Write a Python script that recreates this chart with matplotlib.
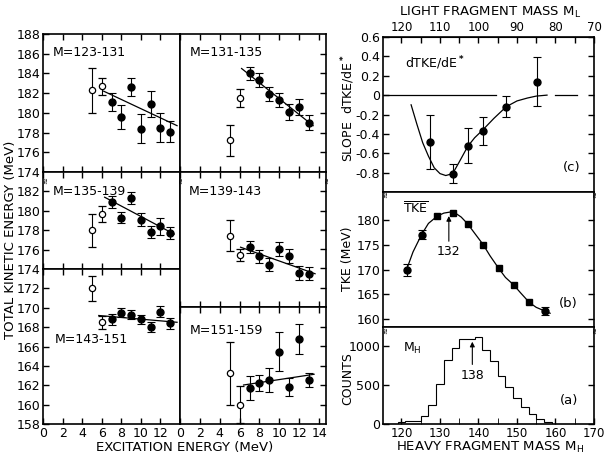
import numpy as np
import matplotlib
matplotlib.use("Agg")
import matplotlib.pyplot as plt

plt.rcParams['font.family'] = ['Liberation Sans Narrow', 'DejaVu Sans']
plt.rcParams['mathtext.fontset'] = 'custom'
plt.rcParams['mathtext.rm'] = 'Liberation Sans Narrow'
plt.rcParams['font.size'] = 9

W, H = 606, 457

# excitation energies (MeV)
open_E = [5, 6]
fill_E = [7, 8, 9, 10, 11, 12, 13]

# M=123-131
m123_open = [182.3, 182.7]
m123_open_err = [2.3, 0.85]
m123_fill = [181.1, 179.6, 182.6, 178.4, 180.9, 178.5, 178.1]
m123_fill_err = [0.9, 1.2, 0.9, 1.5, 1.3, 1.5, 1.1]
m123_fit = [[6.2, 13.7], [182.2, 178.7]]

# M=131-135
m131_open = [177.2, 181.5]
m131_open_err = [1.6, 0.95]
m131_fill = [184.0, 183.3, 181.9, 181.3, 180.1, 180.6, 179.0]
m131_fill_err = [0.7, 0.7, 0.7, 0.7, 0.8, 0.85, 0.75]
m131_fit = [[6.2, 13.4], [184.5, 178.7]]

# M=135-139
m135_open = [178.0, 179.65]
m135_open_err = [1.7, 0.8]
m135_fill = [180.9, 179.3, 181.3, 179.1, 177.8, 178.4, 177.7]
m135_fill_err = [0.65, 0.6, 0.65, 0.65, 0.65, 0.85, 0.65]
m135_fit = [[6.3, 13.4], [181.4, 177.6]]

# M=139-143
m139_open = [177.4, 175.4]
m139_open_err = [1.6, 0.6]
m139_fill = [176.2, 175.25, 174.4, 176.0, 175.3, 173.5, 173.45]
m139_fill_err = [0.6, 0.65, 0.65, 0.7, 0.75, 0.75, 0.65]
m139_fit = [[6.1, 13.6], [176.2, 173.45]]

# M=143-151
m143_open = [172.0, 168.5]
m143_open_err = [1.3, 0.65]
m143_fill = [168.8, 169.5, 169.3, 168.8, 168.0, 169.6, 168.4]
m143_fill_err = [0.6, 0.5, 0.45, 0.45, 0.5, 0.6, 0.55]
m143_fit = [[5.7, 13.7], [169.2, 168.5]]

# M=151-159
m151_open = [163.2, 160.0]
m151_open_err = [3.2, 1.9]
m151_fill = [161.7, 162.2, 162.5, 165.4, 161.8, 166.75, 162.5]
m151_fill_err = [1.2, 0.8, 1.2, 2.0, 0.9, 1.55, 0.7]
m151_fit = [[6.4, 13.5], [162.0, 163.1]]

# (c) slope dTKE/dE* vs heavy mass
slope_M = [127.4, 133.3, 137.2, 141.1, 147.2, 155.3]
slope_val = [-0.48, -0.81, -0.52, -0.37, -0.12, 0.14]
slope_err = [0.28, 0.10, 0.18, 0.14, 0.11, 0.25]
slope_curve_M = [122.5, 124, 125.5, 127, 128.5, 130, 131.5, 133.3, 135, 137.2,
                 139, 141.1, 144, 147.2, 150, 152.7, 155, 157.8]
slope_curve_v = [-0.10, -0.30, -0.49, -0.63, -0.75, -0.81, -0.83, -0.81, -0.69, -0.53,
                 -0.44, -0.36, -0.24, -0.12, -0.06, -0.03, -0.01, 0.0]

# (b) mean TKE vs heavy mass
tke_err_M = [121.4, 125.2, 157.4]
tke_err_val = [169.9, 177.1, 161.6]
tke_err_err = [1.3, 0.9, 0.8]
tke_sq_M = [129.3, 133.3, 137.2, 141.2, 145.2, 149.1, 153.2]
tke_sq_val = [181.0, 181.5, 179.3, 175.1, 170.3, 166.9, 163.3]
tke_curve_M = [121, 123, 125.2, 127, 129.3, 131, 132.5, 134, 135.5, 137.2, 139, 141.2,
               143, 145.2, 147, 149.1, 151, 153.2, 155, 157.4, 158.6]
tke_curve_v = [169.3, 173.6, 177.1, 179.4, 180.9, 181.5, 181.7, 181.5, 180.7, 179.3,
               177.4, 175.1, 172.8, 170.3, 168.4, 166.9, 165.2, 163.3, 162.3, 161.5, 161.1]

# (a) heavy-mass yield
hist_edges = [119, 121, 123, 125, 127, 129, 131, 133, 135, 137, 139, 141,
              143, 145, 147, 149, 151, 153, 155, 157, 159]
hist_counts = [20, 35, 45, 100, 250, 510, 830, 975, 1100, 1100, 1120, 950,
               810, 615, 478, 337, 222, 128, 60, 30]

fig = plt.figure(figsize=(W / 100, H / 100), dpi=100)


def px_axes(x0, y0, x1, y1):
    return fig.add_axes([x0 / W, 1 - y1 / H, (x1 - x0) / W, (y1 - y0) / H])


def style(ax):
    for s in ax.spines.values():
        s.set_linewidth(1.2)
    ax.tick_params(direction='in', length=4, width=1.0, labelsize=9, pad=2)


def tke_panel(ax, label, lpos, o, oe, f, fe, fit):
    ax.errorbar(open_E, o, yerr=oe, fmt='o', mfc='white', mec='k', color='k',
                ms=4.5, capsize=3, elinewidth=0.8, capthick=0.8, mew=0.9)
    ax.errorbar(fill_E, f, yerr=fe, fmt='o', mfc='k', mec='k', color='k',
                ms=5, capsize=3, elinewidth=0.8, capthick=0.8)
    ax.plot(fit[0], fit[1], color='k', lw=0.9)
    ax.text(lpos[0], lpos[1], label, ha='left', va='center', fontsize=9)


# left figure: six panels
panels = [
    ((43, 180, 34, 172), (174, 188), np.arange(174, 189, 2), True,
     'M=123-131', (1.0, 186.1), m123_open, m123_open_err, m123_fill, m123_fill_err, m123_fit),
    ((43, 180, 172, 269), (174, 184), np.arange(174, 183, 2), True,
     'M=135-139', (1.0, 182.0), m135_open, m135_open_err, m135_fill, m135_fill_err, m135_fit),
    ((43, 180, 269, 424), (158, 174), np.arange(158, 173, 2), True,
     'M=143-151', (1.2, 166.7), m143_open, m143_open_err, m143_fill, m143_fill_err, m143_fit),
    ((180, 326, 34, 172), (174, 188), np.arange(176, 187, 2), False,
     'M=131-135', (1.0, 186.1), m131_open, m131_open_err, m131_fill, m131_fill_err, m131_fit),
    ((180, 326, 172, 307), (170, 184), np.arange(172, 183, 2), False,
     'M=139-143', (0.9, 182.0), m139_open, m139_open_err, m139_fill, m139_fill_err, m139_fit),
    ((180, 326, 307, 424), (158, 170), np.arange(160, 169, 2), False,
     'M=151-159', (1.0, 167.6), m151_open, m151_open_err, m151_fill, m151_fill_err, m151_fit),
]

for i, (box, ylim, yt, left, lab, lpos, o, oe, f, fe, fit) in enumerate(panels):
    x0, x1, y0, y1 = box
    ax = px_axes(x0, y0, x1, y1)
    style(ax)
    tke_panel(ax, lab, lpos, o, oe, f, fe, fit)
    ax.set_ylim(*ylim)
    ax.set_yticks(yt)
    if left:
        ax.set_xlim(0, 14)
        ax.tick_params(axis='y', left=True, right=False, labelleft=True)
        ax.set_xticks(np.arange(0, 13, 2) if i == 2 else np.arange(0, 15, 2))
    else:
        ax.set_xlim(0, 14.7)
        ax.set_xticks(np.arange(0, 15, 2))
        ax.tick_params(axis='y', left=False, right=True, labelleft=False)
    bottom = (i == 2 or i == 5)
    ax.tick_params(axis='x', top=True, bottom=True, labelbottom=bottom)

fig.text(11 / W, 1 - 240 / H, 'TOTAL KINETIC ENERGY (MeV)', rotation=90,
         ha='center', va='center', fontsize=9.5)
fig.text(185 / W, 1 - 447 / H, 'EXCITATION ENERGY (MeV)', ha='center', va='center',
         fontsize=9.5)

# break marks on the left figure
for (bx, by) in [(45, 181), (180, 181), (326, 181)]:
    fig.text(bx / W, 1 - by / H, '≈', rotation=90, ha='center', va='center', fontsize=6)

# right figure: three stacked panels
axc = px_axes(383, 37, 594, 192)
axb = px_axes(383, 192, 594, 327)
axa = px_axes(383, 327, 594, 424)

for ax in (axc, axb, axa):
    style(ax)
    ax.set_xlim(115.2, 170)
    ax.tick_params(axis='y', left=True, right=True)
    ax.tick_params(axis='x', top=False, bottom=False, labelbottom=False)

# (c)
axc.errorbar(slope_M, slope_val, yerr=slope_err, fmt='o', color='k', ms=5,
             capsize=3, elinewidth=0.8, capthick=0.8)
axc.plot(slope_curve_M, slope_curve_v, color='k', lw=0.9)
axc.plot([115.2, 144.5], [0, 0], color='k', lw=0.9)
axc.plot([160, 165.5], [0, 0], color='k', lw=0.9)
axc.set_ylim(-1.0, 0.6)
axc.set_yticks([-0.8, -0.6, -0.4, -0.2, 0, 0.2, 0.4, 0.6])
axc.set_yticklabels(['-0.8', '-0.6', '-0.4', '-0.2', '0', '0.2', '0.4', '0.6'])
axc.text(120.8, 0.33, 'dTKE/dE$^{\\bf *}$', fontsize=9, ha='left', va='center')
axc.text(164.2, -0.75, '(c)', fontsize=9.5, ha='center', va='center')
top = axc.secondary_xaxis('top', functions=(lambda m: 240 - m, lambda m: 240 - m))
top.set_xticks([120, 110, 100, 90, 80, 70])
top.set_xticks(np.arange(70, 125, 5), minor=True)
top.tick_params(which='both', direction='in', length=4, width=1.0, labelsize=8.5, pad=2)
fig.text(490 / W, 1 - 12 / H, 'LIGHT FRAGMENT MASS M$_\\mathrm{L}$', ha='center',
         va='center', fontsize=9.5)

# (b)
axb.errorbar(tke_err_M, tke_err_val, yerr=tke_err_err, fmt='o', color='k', ms=5,
             capsize=3, elinewidth=0.8, capthick=0.8)
axb.plot(tke_sq_M, tke_sq_val, 's', color='k', ms=5)
axb.plot(tke_curve_M, tke_curve_v, color='k', lw=0.9)
axb.set_ylim(158.3, 185.8)
axb.set_yticks([160, 165, 170, 175, 180])
axb.text(120.3, 182.4, '$\\overline{\\mathrm{TKE}}$', fontsize=9, ha='left', va='center')
axb.annotate('132', xy=(132.3, 180.9), xytext=(132.3, 173.6), ha='center', va='center',
             fontsize=9, arrowprops=dict(arrowstyle='-|>', lw=0.8, color='k',
                                         mutation_scale=7, shrinkA=1, shrinkB=0))
axb.text(163.4, 163.1, '(b)', fontsize=9.5, ha='center', va='center')

# (a)
axa.stairs(hist_counts, hist_edges, color='k', lw=0.8)
axa.set_ylim(0, 1250)
axa.set_yticks([0, 500, 1000])
axa.set_xticks(np.arange(120, 171, 10))
axa.set_xticks(np.arange(120, 171, 5), minor=True)
axa.tick_params(axis='x', which='both', bottom=True, labelbottom=True, direction='in',
                length=4, labelsize=8.5)
axa.text(120.5, 975, 'M$_\\mathrm{H}$', fontsize=9, ha='left', va='center')
axa.annotate('138', xy=(138.4, 1060), xytext=(138.4, 630), ha='center', va='center',
             fontsize=9, arrowprops=dict(arrowstyle='-|>', lw=0.8, color='k',
                                         mutation_scale=7, shrinkA=1, shrinkB=0))
axa.text(163.4, 308, '(a)', fontsize=9.5, ha='center', va='center')
fig.text(490 / W, 1 - 447 / H, 'HEAVY FRAGMENT MASS M$_\\mathrm{H}$', ha='center',
         va='center', fontsize=9.5)

# right-hand y labels
fig.text(348 / W, 1 - 108 / H, 'SLOPE  dTKE/dE$^{\\bf *}$', rotation=90, ha='center',
         va='center', fontsize=9)
fig.text(348 / W, 1 - 259 / H, 'TKE (MeV)', rotation=90, ha='center', va='center', fontsize=9)
fig.text(348 / W, 1 - 379 / H, 'COUNTS', rotation=90, ha='center', va='center', fontsize=9)

for (bx, by) in [(385, 195), (594, 195), (385, 331), (594, 331)]:
    fig.text(bx / W, 1 - by / H, '≈', rotation=90, ha='center', va='center', fontsize=6)

fig.savefig('out.png', dpi=100)
